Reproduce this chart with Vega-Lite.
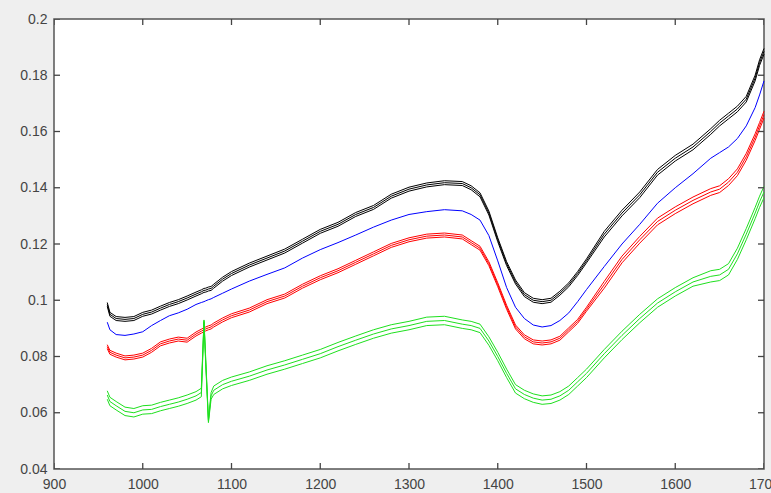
{
"$schema": "https://vega.github.io/schema/vega-lite/v6.json",
"width": 710, "height": 450,
"autosize": {"type": "none"},
"padding": {"left": 54, "top": 19, "right": 7, "bottom": 24},
"background": "#efefef",
"config": {"view": {"fill": "white", "stroke": "#555555", "strokeWidth": 1.5}},
"datasets": {
"xt": [{"t":900},{"t":1000},{"t":1100},{"t":1200},{"t":1300},{"t":1400},{"t":1500},{"t":1600},{"t":1700}],
"yt": [{"v":0.04},{"v":0.06},{"v":0.08},{"v":0.1},{"v":0.12},{"v":0.14},{"v":0.16},{"v":0.18},{"v":0.2}],
"spectra": [
{"x":960,"k1":0.0992,"k2":0.0985,"k3":0.0978,"u":0.0922,"r1":0.0842,"r2":0.0835,"r3":0.0828,"g1":0.0678,"g2":0.0663,"g3":0.0648},
{"x":963,"k1":0.0957,"k2":0.0950,"k3":0.0943,"u":0.0895,"r1":0.0822,"r2":0.0815,"r3":0.0808,"g1":0.0655,"g2":0.0640,"g3":0.0625},
{"x":970,"k1":0.0942,"k2":0.0935,"k3":0.0928,"u":0.0878,"r1":0.0812,"r2":0.0805,"r3":0.0798,"g1":0.0640,"g2":0.0625,"g3":0.0610},
{"x":980,"k1":0.0939,"k2":0.0932,"k3":0.0925,"u":0.0875,"r1":0.0802,"r2":0.0795,"r3":0.0788,"g1":0.0620,"g2":0.0605,"g3":0.0590},
{"x":990,"k1":0.0942,"k2":0.0935,"k3":0.0928,"u":0.0880,"r1":0.0805,"r2":0.0798,"r3":0.0791,"g1":0.0615,"g2":0.0600,"g3":0.0585},
{"x":1000,"k1":0.0957,"k2":0.0950,"k3":0.0943,"u":0.0888,"r1":0.0812,"r2":0.0805,"r3":0.0798,"g1":0.0625,"g2":0.0610,"g3":0.0595},
{"x":1010,"k1":0.0965,"k2":0.0958,"k3":0.0951,"u":0.0910,"r1":0.0829,"r2":0.0822,"r3":0.0815,"g1":0.0627,"g2":0.0612,"g3":0.0597},
{"x":1020,"k1":0.0979,"k2":0.0972,"k3":0.0965,"u":0.0928,"r1":0.0852,"r2":0.0845,"r3":0.0838,"g1":0.0637,"g2":0.0622,"g3":0.0607},
{"x":1030,"k1":0.0992,"k2":0.0985,"k3":0.0978,"u":0.0945,"r1":0.0862,"r2":0.0855,"r3":0.0848,"g1":0.0645,"g2":0.0630,"g3":0.0615},
{"x":1040,"k1":0.1002,"k2":0.0995,"k3":0.0988,"u":0.0955,"r1":0.0869,"r2":0.0862,"r3":0.0855,"g1":0.0653,"g2":0.0638,"g3":0.0623},
{"x":1050,"k1":0.1015,"k2":0.1008,"k3":0.1001,"u":0.0968,"r1":0.0865,"r2":0.0858,"r3":0.0851,"g1":0.0663,"g2":0.0648,"g3":0.0633},
{"x":1060,"k1":0.1029,"k2":0.1022,"k3":0.1015,"u":0.0985,"r1":0.0887,"r2":0.0880,"r3":0.0873,"g1":0.0675,"g2":0.0660,"g3":0.0645},
{"x":1066,"k1":0.1037,"k2":0.1030,"k3":0.1023,"u":0.0992,"r1":0.0897,"r2":0.0890,"r3":0.0883,"g1":0.0687,"g2":0.0672,"g3":0.0657},
{"x":1069,"k1":0.1042,"k2":0.1035,"k3":0.1028,"u":0.0995,"r1":0.0902,"r2":0.0895,"r3":0.0888,"g1":0.0930,"g2":0.0925,"g3":0.0920},
{"x":1071,"k1":0.1043,"k2":0.1036,"k3":0.1029,"u":0.0998,"r1":0.0905,"r2":0.0898,"r3":0.0891,"g1":0.0790,"g2":0.0780,"g3":0.0770},
{"x":1074,"k1":0.1047,"k2":0.1040,"k3":0.1033,"u":0.1002,"r1":0.0909,"r2":0.0902,"r3":0.0895,"g1":0.0575,"g2":0.0570,"g3":0.0565},
{"x":1077,"k1":0.1049,"k2":0.1042,"k3":0.1035,"u":0.1005,"r1":0.0912,"r2":0.0905,"r3":0.0898,"g1":0.0672,"g2":0.0660,"g3":0.0648},
{"x":1080,"k1":0.1057,"k2":0.1050,"k3":0.1043,"u":0.1010,"r1":0.0919,"r2":0.0912,"r3":0.0905,"g1":0.0695,"g2":0.0680,"g3":0.0665},
{"x":1090,"k1":0.1082,"k2":0.1075,"k3":0.1068,"u":0.1025,"r1":0.0937,"r2":0.0930,"r3":0.0923,"g1":0.0715,"g2":0.0700,"g3":0.0685},
{"x":1100,"k1":0.1102,"k2":0.1095,"k3":0.1088,"u":0.1040,"r1":0.0952,"r2":0.0945,"r3":0.0938,"g1":0.0727,"g2":0.0712,"g3":0.0697},
{"x":1120,"k1":0.1132,"k2":0.1125,"k3":0.1118,"u":0.1068,"r1":0.0972,"r2":0.0965,"r3":0.0958,"g1":0.0745,"g2":0.0730,"g3":0.0715},
{"x":1140,"k1":0.1157,"k2":0.1150,"k3":0.1143,"u":0.1092,"r1":0.1002,"r2":0.0995,"r3":0.0988,"g1":0.0767,"g2":0.0752,"g3":0.0737},
{"x":1160,"k1":0.1182,"k2":0.1175,"k3":0.1168,"u":0.1115,"r1":0.1022,"r2":0.1015,"r3":0.1008,"g1":0.0785,"g2":0.0770,"g3":0.0755},
{"x":1180,"k1":0.1217,"k2":0.1210,"k3":0.1203,"u":0.1150,"r1":0.1057,"r2":0.1050,"r3":0.1043,"g1":0.0805,"g2":0.0790,"g3":0.0775},
{"x":1200,"k1":0.1252,"k2":0.1245,"k3":0.1238,"u":0.1180,"r1":0.1087,"r2":0.1080,"r3":0.1073,"g1":0.0825,"g2":0.0810,"g3":0.0795},
{"x":1220,"k1":0.1277,"k2":0.1270,"k3":0.1263,"u":0.1205,"r1":0.1112,"r2":0.1105,"r3":0.1098,"g1":0.0850,"g2":0.0835,"g3":0.0820},
{"x":1240,"k1":0.1312,"k2":0.1305,"k3":0.1298,"u":0.1232,"r1":0.1142,"r2":0.1135,"r3":0.1128,"g1":0.0873,"g2":0.0858,"g3":0.0843},
{"x":1260,"k1":0.1337,"k2":0.1330,"k3":0.1323,"u":0.1260,"r1":0.1172,"r2":0.1165,"r3":0.1158,"g1":0.0895,"g2":0.0880,"g3":0.0865},
{"x":1280,"k1":0.1377,"k2":0.1370,"k3":0.1363,"u":0.1285,"r1":0.1202,"r2":0.1195,"r3":0.1188,"g1":0.0913,"g2":0.0898,"g3":0.0883},
{"x":1300,"k1":0.1402,"k2":0.1395,"k3":0.1388,"u":0.1305,"r1":0.1222,"r2":0.1215,"r3":0.1208,"g1":0.0925,"g2":0.0910,"g3":0.0895},
{"x":1320,"k1":0.1417,"k2":0.1410,"k3":0.1403,"u":0.1315,"r1":0.1235,"r2":0.1228,"r3":0.1221,"g1":0.0940,"g2":0.0925,"g3":0.0910},
{"x":1340,"k1":0.1425,"k2":0.1418,"k3":0.1411,"u":0.1322,"r1":0.1239,"r2":0.1232,"r3":0.1225,"g1":0.0943,"g2":0.0928,"g3":0.0913},
{"x":1360,"k1":0.1422,"k2":0.1415,"k3":0.1408,"u":0.1318,"r1":0.1232,"r2":0.1225,"r3":0.1218,"g1":0.0930,"g2":0.0915,"g3":0.0900},
{"x":1370,"k1":0.1407,"k2":0.1400,"k3":0.1393,"u":0.1305,"r1":0.1212,"r2":0.1205,"r3":0.1198,"g1":0.0925,"g2":0.0910,"g3":0.0895},
{"x":1380,"k1":0.1382,"k2":0.1375,"k3":0.1368,"u":0.1285,"r1":0.1192,"r2":0.1185,"r3":0.1178,"g1":0.0915,"g2":0.0900,"g3":0.0885},
{"x":1390,"k1":0.1317,"k2":0.1310,"k3":0.1303,"u":0.1230,"r1":0.1137,"r2":0.1130,"r3":0.1123,"g1":0.0870,"g2":0.0855,"g3":0.0840},
{"x":1400,"k1":0.1222,"k2":0.1215,"k3":0.1208,"u":0.1140,"r1":0.1062,"r2":0.1055,"r3":0.1048,"g1":0.0815,"g2":0.0800,"g3":0.0785},
{"x":1410,"k1":0.1137,"k2":0.1130,"k3":0.1123,"u":0.1045,"r1":0.0982,"r2":0.0975,"r3":0.0968,"g1":0.0755,"g2":0.0740,"g3":0.0725},
{"x":1420,"k1":0.1072,"k2":0.1065,"k3":0.1058,"u":0.0975,"r1":0.0912,"r2":0.0905,"r3":0.0898,"g1":0.0700,"g2":0.0685,"g3":0.0670},
{"x":1430,"k1":0.1027,"k2":0.1020,"k3":0.1013,"u":0.0935,"r1":0.0877,"r2":0.0870,"r3":0.0863,"g1":0.0680,"g2":0.0665,"g3":0.0650},
{"x":1440,"k1":0.1007,"k2":0.1000,"k3":0.0993,"u":0.0912,"r1":0.0859,"r2":0.0852,"r3":0.0845,"g1":0.0667,"g2":0.0652,"g3":0.0637},
{"x":1450,"k1":0.1002,"k2":0.0995,"k3":0.0988,"u":0.0905,"r1":0.0855,"r2":0.0848,"r3":0.0841,"g1":0.0660,"g2":0.0645,"g3":0.0630},
{"x":1460,"k1":0.1007,"k2":0.1000,"k3":0.0993,"u":0.0910,"r1":0.0859,"r2":0.0852,"r3":0.0845,"g1":0.0663,"g2":0.0648,"g3":0.0633},
{"x":1470,"k1":0.1032,"k2":0.1025,"k3":0.1018,"u":0.0928,"r1":0.0872,"r2":0.0865,"r3":0.0858,"g1":0.0675,"g2":0.0660,"g3":0.0645},
{"x":1480,"k1":0.1062,"k2":0.1055,"k3":0.1048,"u":0.0955,"r1":0.0902,"r2":0.0895,"r3":0.0888,"g1":0.0695,"g2":0.0680,"g3":0.0665},
{"x":1490,"k1":0.1102,"k2":0.1095,"k3":0.1088,"u":0.0995,"r1":0.0932,"r2":0.0925,"r3":0.0918,"g1":0.0725,"g2":0.0710,"g3":0.0695},
{"x":1500,"k1":0.1147,"k2":0.1140,"k3":0.1133,"u":0.1038,"r1":0.0975,"r2":0.0968,"r3":0.0961,"g1":0.0755,"g2":0.0740,"g3":0.0725},
{"x":1520,"k1":0.1245,"k2":0.1235,"k3":0.1225,"u":0.1120,"r1":0.1067,"r2":0.1055,"r3":0.1043,"g1":0.0825,"g2":0.0810,"g3":0.0795},
{"x":1540,"k1":0.1320,"k2":0.1310,"k3":0.1300,"u":0.1200,"r1":0.1157,"r2":0.1145,"r3":0.1133,"g1":0.0890,"g2":0.0875,"g3":0.0860},
{"x":1560,"k1":0.1385,"k2":0.1375,"k3":0.1365,"u":0.1270,"r1":0.1227,"r2":0.1215,"r3":0.1203,"g1":0.0950,"g2":0.0935,"g3":0.0920},
{"x":1580,"k1":0.1465,"k2":0.1455,"k3":0.1445,"u":0.1345,"r1":0.1292,"r2":0.1280,"r3":0.1268,"g1":0.1005,"g2":0.0990,"g3":0.0975},
{"x":1600,"k1":0.1515,"k2":0.1505,"k3":0.1495,"u":0.1400,"r1":0.1332,"r2":0.1320,"r3":0.1308,"g1":0.1045,"g2":0.1030,"g3":0.1015},
{"x":1620,"k1":0.1555,"k2":0.1545,"k3":0.1535,"u":0.1450,"r1":0.1367,"r2":0.1355,"r3":0.1343,"g1":0.1080,"g2":0.1065,"g3":0.1050},
{"x":1640,"k1":0.1610,"k2":0.1600,"k3":0.1590,"u":0.1505,"r1":0.1397,"r2":0.1385,"r3":0.1373,"g1":0.1105,"g2":0.1085,"g3":0.1065},
{"x":1650,"k1":0.1640,"k2":0.1630,"k3":0.1620,"u":0.1525,"r1":0.1407,"r2":0.1395,"r3":0.1383,"g1":0.1110,"g2":0.1090,"g3":0.1070},
{"x":1660,"k1":0.1665,"k2":0.1655,"k3":0.1645,"u":0.1545,"r1":0.1432,"r2":0.1420,"r3":0.1408,"g1":0.1130,"g2":0.1110,"g3":0.1090},
{"x":1670,"k1":0.1690,"k2":0.1680,"k3":0.1670,"u":0.1575,"r1":0.1467,"r2":0.1455,"r3":0.1443,"g1":0.1185,"g2":0.1165,"g3":0.1145},
{"x":1680,"k1":0.1725,"k2":0.1715,"k3":0.1705,"u":0.1620,"r1":0.1522,"r2":0.1510,"r3":0.1498,"g1":0.1255,"g2":0.1235,"g3":0.1215},
{"x":1690,"k1":0.1800,"k2":0.1790,"k3":0.1780,"u":0.1685,"r1":0.1592,"r2":0.1580,"r3":0.1568,"g1":0.1330,"g2":0.1310,"g3":0.1290},
{"x":1695,"k1":0.1855,"k2":0.1845,"k3":0.1835,"u":0.1730,"r1":0.1632,"r2":0.1620,"r3":0.1608,"g1":0.1370,"g2":0.1350,"g3":0.1330},
{"x":1700,"k1":0.1895,"k2":0.1885,"k3":0.1875,"u":0.1780,"r1":0.1672,"r2":0.1660,"r3":0.1648,"g1":0.1405,"g2":0.1385,"g3":0.1365}
]},
"layer": [
 {"data": {"name": "spectra"},
  "transform": [{"fold": ["k1","k2","k3","u","r1","r2","r3","g1","g2","g3"], "as": ["series","value"]}],
  "mark": {"type": "line", "strokeWidth": 1},
  "encoding": {
   "x": {"field": "x", "type": "quantitative", "title": null, "scale": {"domain": [900, 1700], "nice": false, "zero": false},
     "axis": {"orient": "bottom", "values": [900,1000,1100,1200,1300,1400,1500,1600,1700], "format": "d", "grid": false, "domain": false,
       "ticks": false, "tickSize": 0, "labelPadding": 8, "labelFlush": false,
       "labelFont": "Liberation Sans", "labelFontSize": 14, "labelColor": "#444444"}},
   "y": {"field": "value", "type": "quantitative", "title": null, "scale": {"domain": [0.04, 0.2], "nice": false, "zero": false},
     "axis": {"orient": "left", "values": [0.04,0.06,0.08,0.1,0.12,0.14,0.16,0.18,0.2], "format": ".2~f", "grid": false, "domain": false,
       "ticks": false, "tickSize": 0, "labelPadding": 7, "labelFlush": false,
       "labelFont": "Liberation Sans", "labelFontSize": 14, "labelColor": "#444444"}},
   "color": {"field": "series", "type": "nominal",
     "scale": {"domain": ["k1","k2","k3","u","r1","r2","r3","g1","g2","g3"],
       "range": ["#000000","#000000","#000000","#0000ff","#ff0000","#ff0000","#ff0000","#1ee01e","#1ee01e","#1ee01e"]},
     "legend": null}
  }},
 {"data": {"name": "xt"},
  "mark": {"type": "tick", "orient": "vertical", "size": 12, "thickness": 1.3, "color": "#444444", "clip": true, "opacity": 1},
  "encoding": {"x": {"field": "t", "type": "quantitative"}, "y": {"datum": 0.04}}},
 {"data": {"name": "xt"},
  "mark": {"type": "tick", "orient": "vertical", "size": 12, "thickness": 1.3, "color": "#444444", "clip": true, "opacity": 1},
  "encoding": {"x": {"field": "t", "type": "quantitative"}, "y": {"datum": 0.2}}},
 {"data": {"name": "yt"},
  "mark": {"type": "tick", "orient": "horizontal", "size": 12, "thickness": 1.3, "color": "#444444", "clip": true, "opacity": 1},
  "encoding": {"y": {"field": "v", "type": "quantitative"}, "x": {"datum": 900}}},
 {"data": {"name": "yt"},
  "mark": {"type": "tick", "orient": "horizontal", "size": 12, "thickness": 1.3, "color": "#444444", "clip": true, "opacity": 1},
  "encoding": {"y": {"field": "v", "type": "quantitative"}, "x": {"datum": 1700}}}
]
}
